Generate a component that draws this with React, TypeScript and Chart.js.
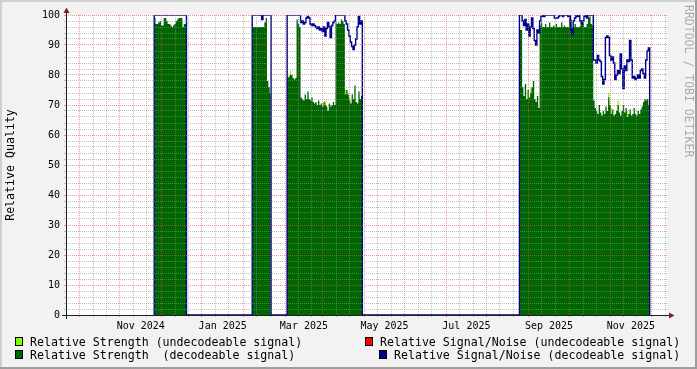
import React, { useEffect, useRef } from 'react';
import { Chart, registerables } from 'chart.js';

Chart.register(...registerables);

const FONT = "'DejaVu Sans Mono', monospace";

// x values are days counted from 2024-08-01 (UTC)
const DAY0 = Date.UTC(2024, 7, 1);
const dayOf = (y: number, m: number, d: number) => (Date.UTC(y, m, d) - DAY0) / 86400000;

const xMin = 20.8;
const xMax = 468.4;

// ---- data: one value per day for each period with data ----
const segmentStarts = [86.5, 159.5, 185.5, 358.5];

const strengthSeg1 = [99, 97, 97, 97.5, 98, 96.5, 96.5, 99, 99, 98, 97, 97, 96.5, 96, 96.5, 97, 98, 98.5, 99, 99, 99, 96, 97, 97];
const strengthSeg2 = [96, 96, 96, 96, 96, 96, 96, 96, 96, 97.5, 99, 78, 76, 74];
const strengthSeg3 = [
  79, 79.5, 80, 80, 79, 78.5, 79, 98.5, 97, 96,
  72.5, 72, 71.5, 73.5, 72, 74.5, 72, 71.5, 72.5, 71,
  70.5, 71, 70, 71.5, 70, 70.5, 69.5, 71, 70, 69.5,
  68, 70.5, 69.5, 70, 71, 70, 97.5, 97, 97.5, 97,
  98.5, 98, 97, 73.5, 75, 73.5, 71.5, 70.5, 73.5, 72,
  76.5, 71, 70.5, 74.5, 72, 73,
];
const strengthSeg4 = [
  95, 95, 76, 73, 77, 72, 75, 72.5, 74, 76, 78, 72, 71, 73, 69,
  96.5, 97.5, 96, 96, 97, 96, 96, 97.5, 96, 96, 96.5, 96, 97, 96, 96, 96, 97.5, 96, 96.5, 96,
  96, 96, 99, 98.5, 96, 96, 97, 96, 96, 96, 96.5, 98, 97.5, 96, 96, 97, 99, 99.5, 97, 96.5,
  71.5, 69, 68, 67, 70, 67.5, 66.5, 68, 67, 69.5, 68, 72.5, 70, 67, 68.5, 66.5, 67, 68, 70, 67.5,
  66.5, 68, 70, 67.5, 69, 66, 67, 68.5, 66.5, 67, 69, 67, 66.5, 68, 67, 68.5, 69.5, 71, 72, 71.5,
  72, 70,
];

const snrSeg1 = [100, 100, 100, 100, 100, 100, 100, 100, 100, 100, 100, 100, 100, 100, 100, 100, 100, 100, 100, 100, 100, 100, 100, 100];
const snrSeg2 = [100, 100, 100, 100, 100, 100, 100, 98.5, 100, 100, 100, 100, 100, 100];
const snrSeg3 = [
  100, 100, 100, 100, 100, 100, 100, 100, 100, 100,
  97.5, 98, 97, 97.5, 99, 99.5, 99, 97, 96.5, 97,
  96.5, 96, 95.5, 96, 95, 95.5, 94.5, 96, 93, 95.5,
  97.5, 96, 92.5, 96.5, 97.5, 98, 100, 100, 100, 100,
  100, 100, 100, 98, 97, 95, 93, 91, 89.5, 88.5,
  90, 92, 96, 99.5, 97, 98,
];
const snrSeg4 = [
  100, 100, 98, 96.5, 98.5, 95, 97, 93, 96, 99, 95.5, 91.5, 90, 95, 94,
  98, 99.5, 100, 99.5, 100, 100, 100, 100, 100, 100, 100, 99, 99, 99, 99.5, 100, 100, 99.5, 100, 100,
  100, 99.5, 100, 95, 93.5, 98, 99, 100, 99.5, 100, 98, 97, 98, 99.5, 100, 99, 100, 100, 100, 100,
  85, 85, 84, 86.5, 85, 84.5, 79.5, 77, 78.5, 92.5, 93, 92.5, 86.5, 85, 86, 84, 78.5, 80, 81.5, 80.5,
  87, 82, 75.5, 83, 81.5, 85, 84.5, 91.5, 85, 79, 79.5, 78.5, 79, 80, 79, 81.5, 82, 80.5, 79, 85,
  88, 89,
];

// undecodeable-signal strength (only visible where it tops the decodeable one)
const weakStrengthDays = [187.5, 213.5, 228.5, 231.5, 366.5, 424.5, 426.5, 431.5, 438.5];
const weakStrengthValues = [81.5, 71.5, 75, 72.5, 75.5, 74, 69, 71.5, 68];

// undecodeable-signal S/N: no values in this period
const weakSnrDays: number[] = [];
const weakSnrValues: number[] = [];

const xTickLabels = ['Nov 2024', 'Jan 2025', 'Mar 2025', 'May 2025', 'Jul 2025', 'Sep 2025', 'Nov 2025'];
const xTickLabelMonths: [number, number][] = [[2024, 10], [2025, 0], [2025, 2], [2025, 4], [2025, 6], [2025, 8], [2025, 10]];

const yMin = 0;
const yMax = 100;
const yMinorStep = 2;
const yMajorStep = 10;

const strengthSegs = [strengthSeg1, strengthSeg2, strengthSeg3, strengthSeg4];
const snrSegs = [snrSeg1, snrSeg2, snrSeg3, snrSeg4];

type P = { x: number; y: number };

// explicit step outline: each daily value is held flat for one day
function stepPoints(segs: number[][]) {
  const pts: P[] = [];
  segs.forEach((vals, i) => {
    const s = segmentStarts[i];
    pts.push({ x: s, y: 0 });
    vals.forEach((v, k) => {
      pts.push({ x: s + k, y: v });
      pts.push({ x: s + k + 1, y: v });
    });
    pts.push({ x: s + vals.length, y: 0 });
  });
  return pts;
}

function spikePoints(days: number[], vals: number[]) {
  const pts: P[] = [];
  days.forEach((d, i) => {
    pts.push({ x: d, y: 0 });
    pts.push({ x: d, y: vals[i] });
    pts.push({ x: d + 1, y: vals[i] });
    pts.push({ x: d + 1, y: 0 });
  });
  return pts;
}

type XT = { value: number; kind: 'major' | 'minor' | 'label'; label?: string };

function buildXTicks(): XT[] {
  const list: XT[] = [];
  for (let i = 0; i < 17; i++) {
    const y = 2024 + Math.floor((7 + i) / 12);
    const m = (7 + i) % 12;
    const s = dayOf(y, m, 1);
    list.push({ value: s, kind: 'major' });
    list.push({ value: s + 10, kind: 'minor' });
    list.push({ value: s + 20, kind: 'minor' });
  }
  const inRange = list.filter((t) => t.value > xMin && t.value < xMax);
  xTickLabelMonths.forEach(([y, m], i) => {
    const pos = (dayOf(y, m - 1, 1) + dayOf(y, m, 1)) / 2;
    inRange.push({ value: pos, kind: 'label', label: xTickLabels[i] });
  });
  return inRange.sort((a, b) => a.value - b.value);
}

const MGRID = 'rgba(222,79,79,0.6)';
const GRID = 'rgba(143,143,143,0.55)';

const rrdFrame = {
  id: 'rrdFrame',
  beforeDraw(chart: any) {
    const { ctx, chartArea: a, width, height } = chart;
    ctx.save();
    ctx.fillStyle = '#F2F2F2';
    ctx.fillRect(0, 0, width, height);
    ctx.fillStyle = '#FFFFFF';
    ctx.fillRect(a.left, a.top, a.right - a.left, a.bottom - a.top);
    ctx.restore();
  },
  afterDraw(chart: any) {
    const { ctx, chartArea: a, width, height } = chart;
    ctx.save();
    ctx.strokeStyle = 'rgb(31,31,31)';
    ctx.lineWidth = 1;
    const ax = a.left + 0.5;
    const ay = a.bottom + 0.5;
    ctx.beginPath();
    ctx.moveTo(a.left - 4, ay);
    ctx.lineTo(a.right + 4, ay);
    ctx.moveTo(ax, a.bottom + 4);
    ctx.lineTo(ax, a.top - 4);
    ctx.stroke();
    ctx.fillStyle = 'rgb(128,31,31)';
    ctx.beginPath();
    ctx.moveTo(a.right + 2, ay - 3);
    ctx.lineTo(a.right + 2, ay + 3);
    ctx.lineTo(a.right + 7.5, ay);
    ctx.closePath();
    ctx.fill();
    ctx.beginPath();
    ctx.moveTo(ax - 3, a.top - 2);
    ctx.lineTo(ax + 3, a.top - 2);
    ctx.lineTo(ax, a.top - 7.5);
    ctx.closePath();
    ctx.fill();
    // 3D frame
    ctx.fillStyle = '#CFCFCF';
    ctx.fillRect(0, 0, width, 2);
    ctx.fillRect(0, 0, 2, height);
    ctx.fillStyle = '#9E9E9E';
    ctx.fillRect(0, height - 2, width, 2);
    ctx.fillRect(width - 2, 0, 2, height);
    ctx.restore();
  },
};

const legendRows = [
  { color: '#7FFF00', text: 'Relative Strength (undecodeable signal)', box: 15, textLeft: 30, top: 337 },
  { color: '#006600', text: 'Relative Strength  (decodeable signal)', box: 15, textLeft: 30, top: 350 },
  { color: '#FF0000', text: 'Relative Signal/Noise (undecodeable signal)', box: 365, textLeft: 380, top: 337 },
  { color: '#000090', text: 'Relative Signal/Noise (decodeable signal)', box: 379, textLeft: 394, top: 350 },
];

export default function App() {
  const ref = useRef<HTMLCanvasElement>(null);

  useEffect(() => {
    const xTicks = buildXTicks();
    const kindOf = new Map<number, XT>();
    xTicks.forEach((t) => kindOf.set(t.value, t));
    const yTicks: number[] = [];
    for (let v = yMin; v <= yMax; v += yMinorStep) yTicks.push(v);

    const xGridColor = (c: any) => {
      const t = kindOf.get(c.tick?.value);
      if (!t || t.kind === 'label') return 'rgba(0,0,0,0)';
      return t.kind === 'major' ? MGRID : GRID;
    };
    const yGridColor = (c: any) => (c.tick && c.tick.value % yMajorStep === 0 ? MGRID : GRID);

    const snrData = stepPoints(snrSegs);
    const chart = new Chart(ref.current as HTMLCanvasElement, {
      type: 'line',
      data: {
        datasets: [
          {
            label: 'Relative Signal/Noise (decodeable signal)',
            data: snrData,
            borderColor: '#000090',
            borderWidth: 1.4,
            pointRadius: 0,
            tension: 0,
            fill: false,
            order: 0,
          },
          {
            label: 'Relative Signal/Noise (undecodeable signal)',
            data: spikePoints(weakSnrDays, weakSnrValues),
            borderColor: '#FF0000',
            borderWidth: 1.4,
            pointRadius: 0,
            fill: false,
            order: 1,
          },
          {
            label: 'Relative Strength  (decodeable signal)',
            data: stepPoints(strengthSegs),
            backgroundColor: '#006600',
            borderColor: 'rgba(0,0,0,0)',
            borderWidth: 1,
            pointRadius: 0,
            tension: 0,
            fill: 'origin',
            order: 2,
          },
          {
            label: 'Relative Strength (undecodeable signal)',
            data: spikePoints(weakStrengthDays, weakStrengthValues),
            backgroundColor: '#7FFF00',
            borderColor: 'rgba(0,0,0,0)',
            borderWidth: 1,
            pointRadius: 0,
            tension: 0,
            fill: 'origin',
            order: 3,
          },
        ],
      },
      options: {
        animation: false,
        responsive: false,
        maintainAspectRatio: false,
        devicePixelRatio: 1,
        events: [],
        layout: { padding: { top: 15, right: 30, bottom: 0, left: 0 } },
        plugins: { legend: { display: false }, tooltip: { enabled: false } },
        scales: {
          x: {
            type: 'linear',
            min: xMin,
            max: xMax,
            afterBuildTicks: (scale: any) => {
              scale.ticks = xTicks.map((t) => ({ value: t.value }));
            },
            afterFit: (scale: any) => {
              scale.height = 54;
            },
            ticks: {
              autoSkip: false,
              maxRotation: 0,
              minRotation: 0,
              padding: 3,
              color: '#000',
              font: { family: FONT, size: 10 },
              callback: (v: any) => kindOf.get(v)?.label ?? '',
            },
            grid: {
              z: 1,
              color: xGridColor,
              tickColor: xGridColor,
              lineWidth: 1,
              tickLength: 2,
            },
            border: { display: false, dash: [1, 1] },
          },
          y: {
            type: 'linear',
            min: yMin,
            max: yMax,
            afterBuildTicks: (scale: any) => {
              scale.ticks = yTicks.map((v) => ({ value: v }));
            },
            afterFit: (scale: any) => {
              scale.width = 66;
            },
            ticks: {
              autoSkip: false,
              padding: 4,
              color: '#000',
              font: { family: FONT, size: 10 },
              callback: (v: any) => (v % yMajorStep === 0 ? String(v) : ''),
            },
            grid: {
              z: 1,
              color: yGridColor,
              tickColor: yGridColor,
              lineWidth: 1,
              tickLength: 2,
            },
            border: { display: false, dash: [1, 1] },
            title: {
              display: true,
              text: 'Relative Quality',
              color: '#000',
              font: { family: FONT, size: 11.6 },
              padding: { top: 4, bottom: 0 },
            },
          },
        },
      },
      plugins: [rrdFrame],
    } as any);
    return () => chart.destroy();
  }, []);

  return (
    <div style={{ position: 'fixed', left: 0, top: 0, width: 697, height: 369, overflow: 'hidden', fontFamily: FONT }}>
      <canvas ref={ref} width={697} height={369} style={{ position: 'absolute', left: 0, top: 0, width: 697, height: 369 }} />
      {legendRows.map((r) => (
        <React.Fragment key={r.text}>
          <div
            style={{
              position: 'absolute',
              left: r.box,
              top: r.top,
              width: 8,
              height: 9,
              boxSizing: 'border-box',
              border: '1px solid #000',
              background: r.color,
            }}
          />
          <div
            style={{
              position: 'absolute',
              left: r.textLeft,
              top: r.top - 2.5,
              fontSize: 11.6,
              lineHeight: '14px',
              whiteSpace: 'pre',
              color: '#000',
            }}
          >
            {r.text}
          </div>
        </React.Fragment>
      ))}
      <div
        style={{
          position: 'absolute',
          left: 682,
          top: 5,
          width: 14,
          writingMode: 'vertical-rl',
          fontSize: 11.5,
          lineHeight: '14px',
          whiteSpace: 'pre',
          color: 'rgba(0,0,0,0.3)',
        }}
      >
        RRDTOOL / TOBI OETIKER
      </div>
    </div>
  );
}
